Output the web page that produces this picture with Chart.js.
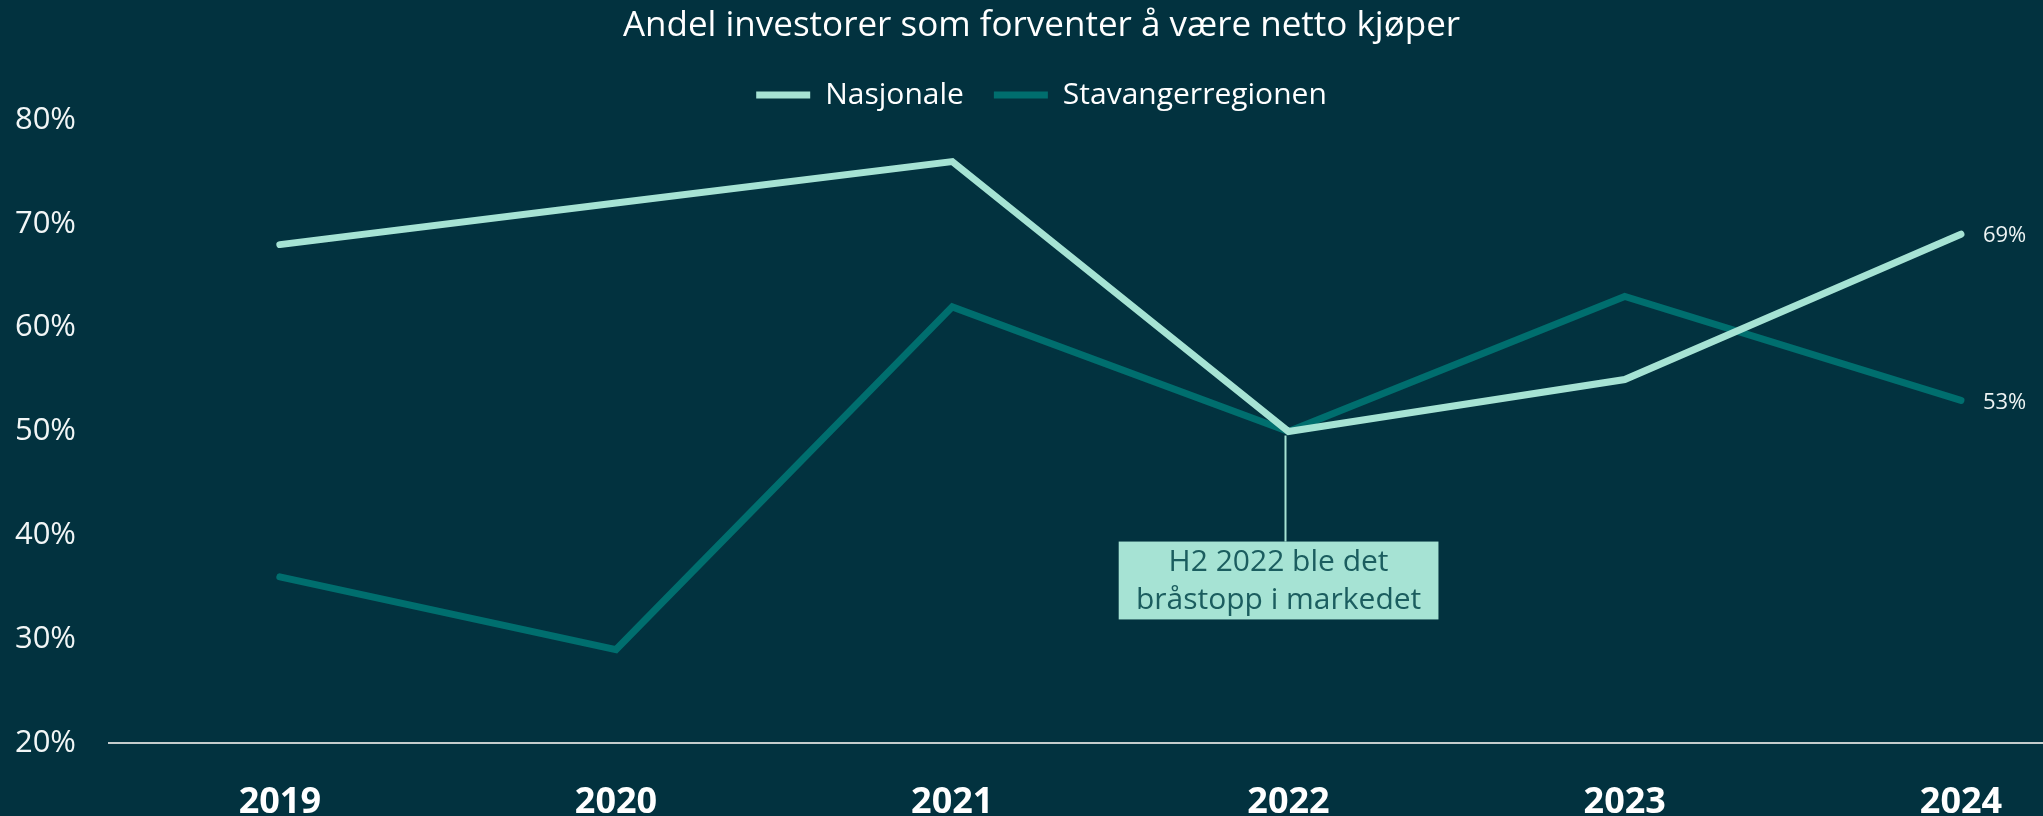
<!DOCTYPE html>
<html>
<head>
<meta charset="utf-8">
<script src="https://cdn.jsdelivr.net/npm/chart.js@4.4.1/dist/chart.umd.min.js"></script>
<style>
  html, body { margin: 0; padding: 0; background: #02323f; }
  #wrap { width: 2043px; height: 816px; }
</style>
</head>
<body>
<div id="wrap"><canvas id="chart"></canvas></div>
<script>
const years = [2019, 2020, 2021, 2022, 2023, 2024];
const nasjonale = [68, 72, 76, 50, 55, 69];
const stavanger = [36, 29, 62, 50, 63, 53];
const seriesNames = ["Nasjonale", "Stavangerregionen"];
const chartTitle = "Andel investorer som forventer å være netto kjøper";
const noteYear = 2022;
const noteValue = 50;
const noteLines = ["H2 2022 ble det", "bråstopp i markedet"];

Chart.defaults.font.family = '"Open Sans", sans-serif';

const toPoints = vals => vals.map((v, i) => ({ x: years[i], y: v }));

// value labels at the end of each line
const endLabels = {
  id: 'endLabels',
  afterDatasetsDraw(chart) {
    const ctx = chart.ctx;
    ctx.save();
    ctx.font = '22px "Open Sans"';
    ctx.fillStyle = '#eef4f4';
    ctx.textBaseline = 'middle';
    chart.data.datasets.forEach((ds, i) => {
      const pts = chart.getDatasetMeta(i).data;
      const pt = pts[pts.length - 1];
      ctx.fillText(ds.data[ds.data.length - 1].y + '%', pt.x + 22, pt.y + 2);
    });
    ctx.restore();
  }
};

// callout box under the 2022 dip
const note = {
  id: 'note',
  afterDatasetsDraw(chart) {
    const { ctx, scales: { x, y } } = chart;
    const px = x.getPixelForValue(noteYear) - 3;
    const py = y.getPixelForValue(noteValue) + 4;
    const left = x.getPixelForValue(noteYear - 0.505);
    const right = x.getPixelForValue(noteYear + 0.446);
    const top = y.getPixelForValue(39.4);
    const bottom = y.getPixelForValue(31.9);
    ctx.save();
    ctx.strokeStyle = '#a6e3d4';
    ctx.lineWidth = 2;
    ctx.beginPath();
    ctx.moveTo(px, py);
    ctx.lineTo(px, top);
    ctx.stroke();
    ctx.fillStyle = '#a6e3d4';
    ctx.fillRect(left, top, right - left, bottom - top);
    ctx.fillStyle = '#1b5d5f';
    ctx.font = '30px "Open Sans"';
    ctx.textAlign = 'center';
    ctx.textBaseline = 'middle';
    const cx = (left + right) / 2;
    const h = bottom - top;
    noteLines.forEach((t, i) => ctx.fillText(t, cx, top + h * 0.27 + i * 38));
    ctx.restore();
  }
};

new Chart(document.getElementById('chart'), {
  type: 'line',
  data: {
    datasets: [
      {
        label: seriesNames[0],
        data: toPoints(nasjonale),
        borderColor: '#a6e3d4',
        backgroundColor: '#a6e3d4',
        borderWidth: 7,
        borderCapStyle: 'round',
        borderJoinStyle: 'miter',
        pointRadius: 0,
        tension: 0,
        fill: false
      },
      {
        label: seriesNames[1],
        data: toPoints(stavanger),
        borderColor: '#006e6e',
        backgroundColor: '#006e6e',
        borderWidth: 7,
        borderCapStyle: 'round',
        borderJoinStyle: 'miter',
        pointRadius: 0,
        tension: 0,
        fill: false
      }
    ]
  },
  options: {
    responsive: true,
    maintainAspectRatio: false,
    animation: false,
    devicePixelRatio: 1,
    // negative right padding nudges the title/legend centre right like the original
    layout: { padding: { left: 0, right: -40, top: 0, bottom: 0 } },
    plugins: {
      title: {
        display: true,
        text: chartTitle,
        color: '#ffffff',
        font: { size: 35, weight: 'normal' },
        padding: { top: 5, bottom: 3 }
      },
      legend: {
        labels: {
          usePointStyle: true,
          pointStyle: 'line',
          pointStyleWidth: 54,
          color: '#ffffff',
          font: { size: 30 },
          padding: 30
        }
      },
      tooltip: { enabled: false }
    },
    scales: {
      x: {
        type: 'linear',
        min: 2018.492,
        max: 2024.244,
        grid: { display: false },
        border: { display: true, color: '#c5cccc', width: 2 },
        afterFit: s => { s.height = 73; },
        ticks: {
          stepSize: 1,
          includeBounds: false,
          color: '#ffffff',
          font: { size: 36, weight: 'bold' },
          padding: 30,
          callback: v => years.includes(v) ? String(v) : ''
        }
      },
      y: {
        min: 20,
        max: 80,
        grid: { display: false },
        border: { display: false },
        afterFit: s => { s.width = 109; },
        ticks: {
          stepSize: 10,
          color: '#f2f6f6',
          font: { size: 31 },
          padding: 25,
          callback: v => v + '%'
        }
      }
    }
  },
  plugins: [endLabels, note]
});
</script>
</body>
</html>
